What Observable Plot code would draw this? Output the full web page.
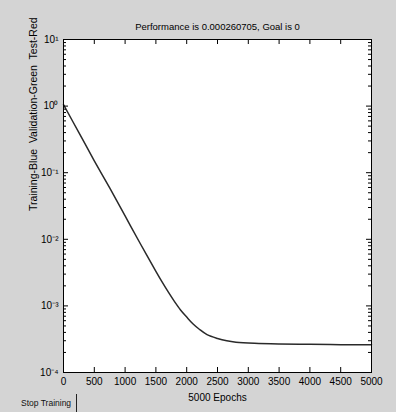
<!DOCTYPE html>
<html><head><meta charset="utf-8">
<script src="https://cdn.jsdelivr.net/npm/d3@7"></script>
<script src="https://cdn.jsdelivr.net/npm/@observablehq/plot@0.6"></script>
<style>
html,body{margin:0;padding:0;background:#d4d4d4;}
#wrap{position:relative;width:396px;height:412px;overflow:hidden;}
#wrap svg text{white-space:pre;}
#btn{position:absolute;left:0;top:394px;width:77px;height:18px;border-right:1px solid #222;
  font:8.5px "Liberation Sans",Arial,sans-serif;color:#111;line-height:18px;padding-left:21px;box-sizing:border-box;white-space:nowrap;}
</style></head><body><div id="wrap"></div><script>
const epochs = [0,250,500,750,1000,1250,1500,1600,1700,1800,1900,2000,2100,2200,2330,2500,2650,2800,3100,3500,4000,4500,5000];
const perf = [1.05,0.40,0.151,0.059,0.0224,0.0085,0.0033,0.00229,0.00162,0.00117,0.00087,0.00068,0.00054,0.00045,0.00037,0.000324,0.000299,0.000285,0.000274,0.000268,0.000265,0.000262,0.000260705];
const xTicks = [0,500,1000,1500,2000,2500,3000,3500,4000,4500,5000];
const yTicks = [1e-4,1e-3,1e-2,1e-1,1,10];
const yTickLabels = ["10\u207B\u2074","10\u207B\u00B3","10\u207B\u00B2","10\u207B\u00B9","10\u2070","10\u00B9"];
const titleText = "Performance is 0.000260705, Goal is 0";
const yLabel = "Training-Blue  Validation-Green  Test-Red";
const xLabel = "5000 Epochs";
const buttonText = "Stop Training";

const data = epochs.map((e,i)=>({epoch:e, perf:perf[i]}));
const minor = [];
yTicks.slice(0,-1).forEach(d=>{for(let k=2;k<=9;k++) minor.push(d*k);});

const W=396,H=412,mL=63,mR=25,mT=39,mB=40;
const fw=W-mL-mR, fh=H-mT-mB;
const font='"Liberation Sans", Arial, sans-serif';

const chart = Plot.plot({
  width:W, height:H, marginLeft:mL, marginRight:mR, marginTop:mT, marginBottom:mB,
  style:{background:"transparent", fontFamily:font, fontSize:"10px", color:"black"},
  x:{domain:[0,5000]},
  y:{type:"log", domain:[1e-4,10]},
  marks:[
    Plot.frame({fill:"white"}),
    Plot.line(data,{x:"epoch", y:"perf", stroke:"#2a2a2a", strokeWidth:1.5, curve:"catmull-rom"}),
    Plot.frame({stroke:"black"}),
    Plot.ruleX(xTicks,{x:d=>d, insetTop:fh-5, stroke:"black"}),
    Plot.ruleX(xTicks,{x:d=>d, insetBottom:fh-5, stroke:"black"}),
    Plot.ruleY(yTicks,{y:d=>d, insetRight:fw-5, stroke:"black"}),
    Plot.ruleY(yTicks,{y:d=>d, insetLeft:fw-5, stroke:"black"}),
    Plot.ruleY(minor,{y:d=>d, insetRight:fw-3, stroke:"black"}),
    Plot.ruleY(minor,{y:d=>d, insetLeft:fw-3, stroke:"black"}),
    Plot.axisX({ticks:xTicks, tickSize:0, tickPadding:5, label:null, fontSize:10, tickFormat:d=>String(d)}),
    Plot.axisY({ticks:yTicks, tickSize:0, tickPadding:5, label:null, fontSize:10,
      tickFormat:d=>yTickLabels[yTicks.indexOf(d)]}),
    Plot.text([titleText],{frameAnchor:"top", dy:-16, fontSize:9.5}),
    Plot.text([xLabel],{frameAnchor:"bottom", dy:28, fontSize:10}),
    Plot.text([yLabel],{frameAnchor:"left", dx:-30, dy:5, rotate:-90, fontSize:10.5})
  ]
});
const wrap=document.getElementById("wrap");
wrap.appendChild(chart);
const btn=document.createElement("div");
btn.id="btn"; btn.textContent=buttonText;
wrap.appendChild(btn);
</script></body></html>
